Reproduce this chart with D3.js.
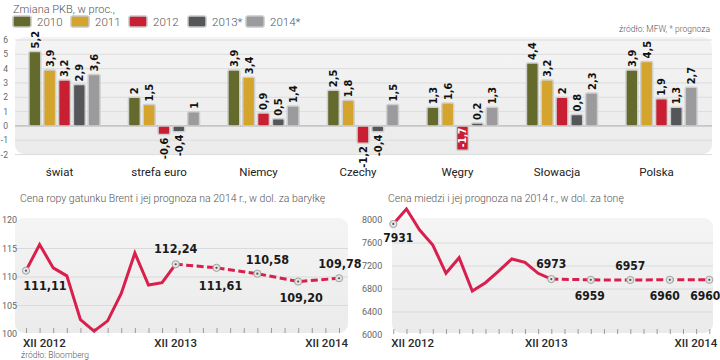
<!DOCTYPE html>
<html><head><meta charset="utf-8">
<script src="https://cdn.jsdelivr.net/npm/d3@7"></script>
<style>
html,body{margin:0;padding:0;background:#fff;}
svg{display:block;}
</style></head>
<body>
<svg id="c" width="720" height="360"></svg>
<script>
// ---------- DATA ----------
const categories = ["świat", "strefa euro", "Niemcy", "Czechy", "Węgry", "Słowacja", "Polska"];
const seriesNames = ["2010", "2011", "2012", "2013*", "2014*"];
const v2010 = [5.2, 2, 3.9, 2.5, 1.3, 4.4, 3.9];
const v2011 = [3.9, 1.5, 3.4, 1.8, 1.6, 3.2, 4.5];
const v2012 = [3.2, -0.6, 0.9, -1.2, -1.7, 2, 1.9];
const v2013 = [2.9, -0.4, 0.5, -0.4, 0.2, 0.8, 1.3];
const v2014 = [3.6, 1, 1.4, 1.5, 1.3, 2.3, 2.7];
const gdpTicks = [-2, -1, 0, 1, 2, 3, 4, 5, 6];

const brentHist = [111.11, 115.7, 111.6, 110.2, 102.5, 100.5, 102.3, 107.1, 114.2, 108.6, 109.0, 112.24];
const brentHistIdx = [0, 1, 2, 3, 4, 5, 6, 7, 8, 9, 10, 11];
const brentFc = [112.24, 111.61, 110.58, 109.20, 109.78];
const brentFcIdx = [11, 14, 17, 20, 23];
const brentTicks = [100, 105, 110, 115, 120];

const copperHist = [7931, 8190, 7826, 7565, 7073, 7345, 6765, 6910, 7113, 7322, 7264, 7073, 6973];
const copperHistIdx = [0, 1, 2, 3, 4, 5, 6, 7, 8, 9, 10, 11, 12];
const copperFc = [6973, 6959, 6957, 6960, 6960];
const copperFcIdx = [12, 15, 18, 21, 24];
const copperTicks = [6000, 6400, 6800, 7200, 7600, 8000];

const xLabels = ["XII 2012", "XII 2013", "XII 2014"];

// ---------- STYLE ----------
const colors = ["#646a2c", "#d5a42c", "#c91f32", "#55565a", "#9b9b9d"];
const lineColor = "#d81f4d";
const fontUI = "Roboto, 'Open Sans', sans-serif";
const fontNum = "'DejaVu Sans Condensed', 'DejaVu Sans', sans-serif";
const fmt = v => String(v).replace(".", ",");
const fmt2 = v => v.toFixed(2).replace(".", ",");

const svg = d3.select("#c");
const defs = svg.append("defs");
const grad = defs.append("linearGradient").attr("id", "panelG").attr("x1", 0).attr("x2", 0).attr("y1", 0).attr("y2", 1);
grad.append("stop").attr("offset", "0%").attr("stop-color", "#f4f4f4");
grad.append("stop").attr("offset", "100%").attr("stop-color", "#ebebeb");

// ---------- TOP: GDP bar chart ----------
svg.append("text").attr("x", 13).attr("y", 13).attr("font-family", fontUI).attr("font-weight", 300)
  .attr("font-size", 11).attr("fill", "#555").text("Zmiana PKB, w proc.,");

const legendX = [13, 71, 129, 188, 246];
const lg = svg.append("g");
seriesNames.forEach((s, i) => {
  lg.append("rect").attr("x", legendX[i]).attr("y", 16).attr("width", 18).attr("height", 11).attr("rx", 2)
    .attr("fill", colors[i]).attr("stroke", "#c8c8c8").attr("stroke-width", 1.5);
  lg.append("text").attr("x", legendX[i] + 24).attr("y", 26).attr("font-family", fontUI).attr("font-weight", 300)
    .attr("font-size", 11.5).attr("fill", "#555").text(s);
});
svg.append("text").attr("x", 710).attr("y", 32).attr("text-anchor", "end").attr("font-family", fontUI).attr("font-weight", 300)
  .attr("font-size", 8.5).attr("fill", "#555").text("źródło: MFW, * prognoza");

svg.append("rect").attr("x", 15).attr("y", 37).attr("width", 697).attr("height", 117).attr("rx", 9).attr("fill", "url(#panelG)");

const yG = d3.scaleLinear().domain([-2, 6]).range([154.6, 40]);
const x0 = d3.scaleBand().domain(categories).range([26, 700]).paddingInner(0.226).paddingOuter(0);
const x1 = d3.scaleBand().domain(seriesNames).range([0, x0.bandwidth()]).padding(0.2);

const gridG = svg.append("g");
gdpTicks.forEach(t => {
  gridG.append("line").attr("x1", 15).attr("x2", 712).attr("y1", yG(t)).attr("y2", yG(t))
    .attr("stroke", t === 0 ? "#a8a8a8" : "#dcdcdc").attr("stroke-width", 1);
  gridG.append("text").attr("x", 8).attr("y", yG(t) + 3).attr("text-anchor", "end").attr("font-family", fontUI)
    .attr("font-size", 8.5).attr("fill", "#666").text(t);
});

const allSeries = [v2010, v2011, v2012, v2013, v2014];
const barsG = svg.append("g");
categories.forEach((c, ci) => {
  allSeries.forEach((arr, si) => {
    const v = arr[ci];
    const bx = x0(c) + x1(seriesNames[si]);
    const bw = x1.bandwidth();
    barsG.append("rect").attr("x", bx).attr("y", yG(Math.max(0, v))).attr("width", bw)
      .attr("height", Math.abs(yG(v) - yG(0))).attr("rx", 1.5)
      .attr("fill", colors[si]).attr("stroke", "#cfcfcf").attr("stroke-width", 1.5);
    const cx = bx + bw / 2;
    let ty, anchor, fill = "#111", fs = 11;
    if (v >= 0) { ty = yG(v) - 3; anchor = "start"; }
    else if (v < -1.5) { ty = yG(v) - 3; anchor = "start"; fill = "#fff"; fs = 10; }
    else { ty = yG(v) + 3; anchor = "end"; }
    barsG.append("text").attr("transform", `translate(${cx},${ty}) rotate(-90)`).attr("dy", "0.36em")
      .attr("text-anchor", anchor).attr("font-family", fontNum).attr("font-weight", "bold")
      .attr("font-size", fs).attr("fill", fill).text(fmt(v));
  });
  svg.append("text").attr("x", x0(c) + x0.bandwidth() / 2 - 5).attr("y", 176).attr("text-anchor", "middle")
    .attr("font-family", fontUI).attr("font-size", 11.5).attr("fill", "#222").text(c);
});

// ---------- LINE CHART helper ----------
function lineChart(o) {
  const g = svg.append("g");
  g.append("text").attr("x", o.titleX).attr("y", 202).attr("font-family", fontUI).attr("font-weight", 300)
    .attr("font-size", 10.5).attr("fill", "#555").text(o.title);
  g.append("rect").attr("x", o.panel[0]).attr("y", 218).attr("width", o.panel[1] - o.panel[0]).attr("height", 115)
    .attr("rx", 9).attr("fill", "url(#panelG)");
  const x = d3.scaleLinear().domain(o.xDomain).range(o.xRange);
  const y = d3.scaleLinear().domain(o.yDomain).range(o.yRange);
  o.yTicks.forEach(t => {
    if (t !== o.yDomain[0] && t !== o.yDomain[1]) {
      g.append("line").attr("x1", o.panel[0]).attr("x2", o.panel[1]).attr("y1", y(t)).attr("y2", y(t))
        .attr("stroke", "#dadada").attr("stroke-width", 1);
    }
    g.append("text").attr("x", o.labelX).attr("y", y(t) + 3).attr("font-family", fontUI)
      .attr("font-size", 9).attr("fill", "#666").text(t);
  });
  // month ticks
  const axis = d3.axisTop(x).tickValues(d3.range(o.xDomain[0], o.xDomain[1] + 1)).tickSize(5).tickFormat("");
  const ag = g.append("g").attr("transform", `translate(0,${y(o.yDomain[0]) - 1})`).call(axis);
  ag.select(".domain").remove();
  ag.selectAll("line").attr("stroke", "#9a9a9a").attr("stroke-width", 1);
  // x labels
  const xl = o.xLabelIdx;
  const anchors = ["start", "middle", "end"];
  xLabels.forEach((t, i) => {
    g.append("text").attr("x", x(xl[i]) + o.xLabelOff[i]).attr("y", 347).attr("text-anchor", anchors[i])
      .attr("font-family", fontUI).attr("font-weight", 500).attr("font-size", 11.5).attr("fill", "#2a2a2a").text(t);
  });
  const line = d3.line().x(d => x(d[0])).y(d => y(d[1]));
  g.append("path").datum(o.histIdx.map((d, i) => [d, o.hist[i]])).attr("d", line)
    .attr("fill", "none").attr("stroke", lineColor).attr("stroke-width", 3).attr("stroke-linejoin", "miter");
  g.append("path").datum(o.fcIdx.map((d, i) => [d, o.fc[i]])).attr("d", line)
    .attr("fill", "none").attr("stroke", lineColor).attr("stroke-width", 3).attr("stroke-dasharray", "7,3.5");
  const pts = [[o.histIdx[0], o.hist[0]]].concat(o.fcIdx.map((d, i) => [d, o.fc[i]]));
  pts.forEach((p, i) => {
    g.append("circle").attr("cx", x(p[0])).attr("cy", y(p[1])).attr("r", 3.6)
      .attr("fill", "#e4e4e4").attr("stroke", "#a0a0a0").attr("stroke-width", 1);
    g.append("circle").attr("cx", x(p[0])).attr("cy", y(p[1])).attr("r", 1.1).attr("fill", "#555");
    const lab = o.labels[i];
    g.append("text").attr("x", x(p[0]) + lab[0]).attr("y", y(p[1]) + lab[1]).attr("text-anchor", "middle")
      .attr("font-family", fontNum).attr("font-weight", "bold").attr("font-size", o.labelSize).attr("fill", "#1a1a1a")
      .text(o.fmt(p[1]));
  });
}

lineChart({
  title: "Cena ropy gatunku Brent i jej prognoza na 2014 r., w dol. za baryłkę",
  titleX: 20, panel: [15, 348], xDomain: [0, 23], xRange: [26, 339],
  yDomain: [100, 120], yRange: [334, 220], yTicks: brentTicks, labelX: 2,
  hist: brentHist, histIdx: brentHistIdx, fc: brentFc, fcIdx: brentFcIdx,
  xLabelIdx: [0, 11, 23], xLabelOff: [-3, 0, 9], fmt: fmt2, labelSize: 12.5,
  labels: [[19, 19], [0, -11], [4, 22], [10, -10], [3, 20], [1, -10]]
});
svg.append("text").attr("x", 21).attr("y", 358).attr("font-family", fontUI).attr("font-weight", 300)
  .attr("font-size", 8.5).attr("fill", "#555").text("źródło: Bloomberg");

lineChart({
  title: "Cena miedzi i jej prognoza na 2014 r., w dol. za tonę",
  titleX: 388, panel: [392, 713], xDomain: [0, 24], xRange: [393.3, 709.3],
  yDomain: [6000, 8000], yRange: [335, 220], yTicks: copperTicks, labelX: 362,
  hist: copperHist, histIdx: copperHistIdx, fc: copperFc, fcIdx: copperFcIdx,
  xLabelIdx: [0, 12, 24], xLabelOff: [-2, -5, 8], fmt: v => String(v), labelSize: 12,
  labels: [[5, 18], [0, -11], [-1, 20], [0, -10], [-5, 20], [-3, 20]].map((d, i) => i === 5 ? [-4, 20] : d)
});
</script>
</body></html>
